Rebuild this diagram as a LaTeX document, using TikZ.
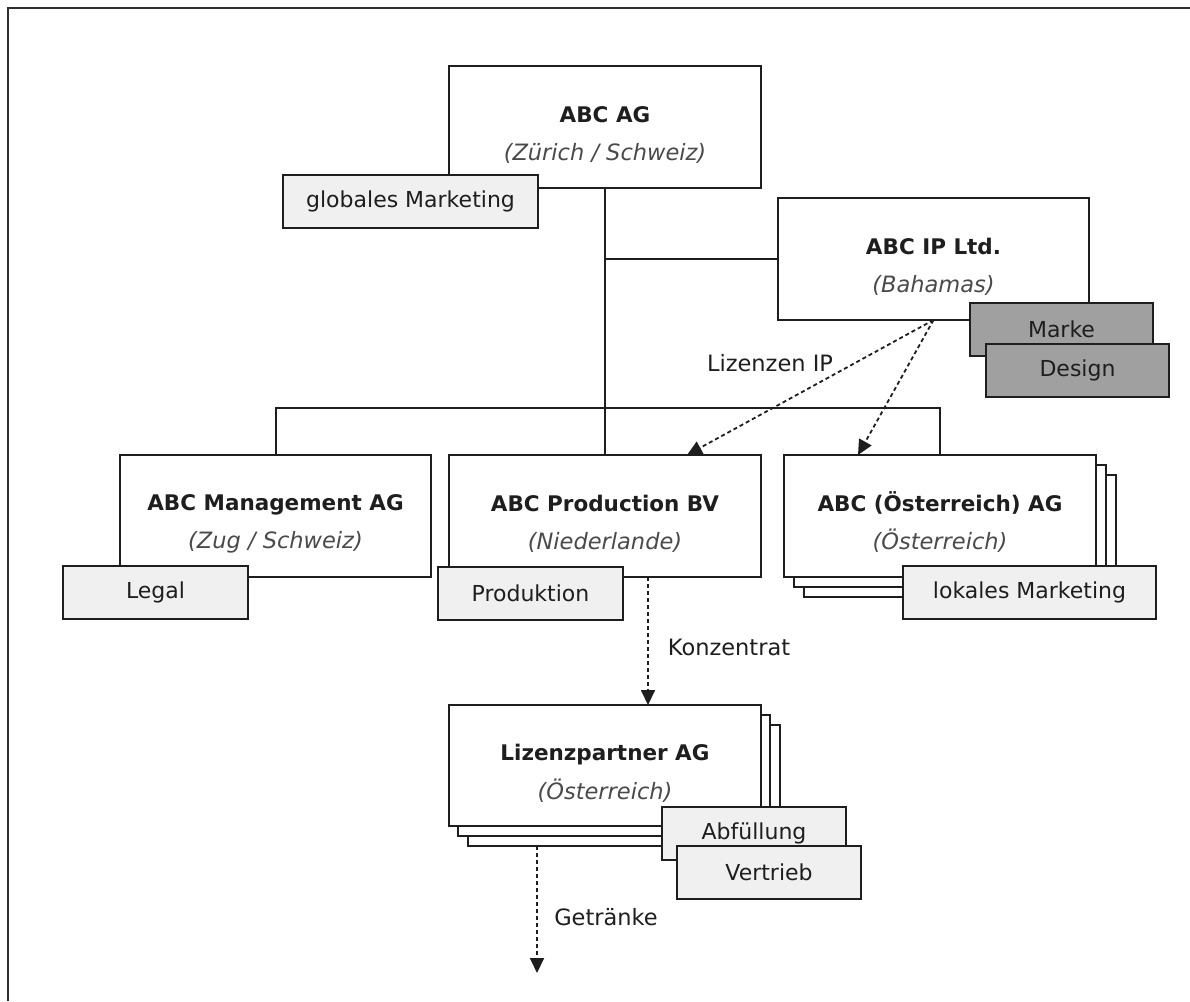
\documentclass[tikz,border=0pt]{standalone}
\usepackage{fontspec}
\setmainfont{DejaVu Sans}
\usetikzlibrary{arrows.meta,calc}
\definecolor{ink}{HTML}{1E1E1E}
\definecolor{sub}{HTML}{4A4A4A}
\definecolor{lightbox}{HTML}{F0F0F0}
\definecolor{darkbox}{HTML}{A0A0A0}
\definecolor{framecol}{HTML}{303030}
\newcommand\enttext[2]{\rule{0pt}{32pt}\textbf{#1}\\{\fontsize{22.5}{39}\selectfont\itshape\color{sub}#2}}
\begin{document}
\begin{tikzpicture}[x=1pt,y=-1pt,
 every node/.style={inner sep=0pt, outer sep=0pt},
 entity/.style={draw=ink, line width=2pt, fill=white, minimum width=312pt, minimum height=122pt, align=center, font=\fontsize{21.5}{38.5}\selectfont, text=ink},
 unit/.style={draw=ink, line width=2pt, fill=lightbox, minimum height=53pt, font=\fontsize{22}{25}\selectfont, text=ink},
 asset/.style={unit, fill=darkbox},
 shadowbox/.style={draw=ink, line width=2pt, fill=white, minimum width=312pt, minimum height=122pt},
 tree/.style={draw=ink, line width=2pt},
 flow/.style={draw=ink, line width=1.8pt, dash pattern=on 4pt off 3pt, -{Triangle[length=15pt,width=14pt]}},
 flowlabel/.style={font=\fontsize{22.5}{25}\selectfont, text=ink},
 outer/.style={draw=framecol, line width=2.5pt},
]
\useasboundingbox (0,0) rectangle (1190,1001);
\draw[outer] (8,1001) -- (8,8) -- (1190,8);

% top level
\node[entity] (abc) at (605,127) {\enttext{ABC AG}{(Zürich / Schweiz)}};
\node[unit, minimum width=255pt] (glob) at (410.5,201) {globales Marketing};

\node[entity, minimum width=311pt] (ip) at (933.5,259) {\enttext{ABC IP Ltd.}{(Bahamas)}};
\node[asset, minimum width=183pt] (marke) at (1061.5,329.5) {Marke};
\node[asset, minimum width=183pt] (design) at (1077.5,370.5) {Design};

% second level
\node[entity, minimum width=311pt] (mgmt) at (275.5,516) {\enttext{ABC Management AG}{(Zug / Schweiz)}};
\node[unit, minimum width=185pt] (legal) at (155.5,592.5) {Legal};

\node[entity] (prod) at (605,516) {\enttext{ABC Production BV}{(Niederlande)}};
\node[unit, minimum width=185pt] (produktion) at (530.5,593) {Produktion};

\node[shadowbox] (oe3) at (960,536) {};
\node[shadowbox] (oe2) at (950,526) {};
\node[entity] (oe) at (940,516) {\enttext{ABC (Österreich) AG}{(Österreich)}};
\node[unit, minimum width=253pt] (lokal) at (1029.5,592.5) {lokales Marketing};

% third level
\node[shadowbox, minimum height=121pt] (lp3) at (624,785.5) {};
\node[shadowbox, minimum height=121pt] (lp2) at (614,775.5) {};
\node[entity, minimum height=121pt] (lp) at (605,765.5) {\enttext{Lizenzpartner AG}{(Österreich)}};
\node[unit, minimum width=184pt] (abf) at (754,833.5) {Abfüllung};
\node[unit, minimum width=184pt] (vertrieb) at (769,872.5) {Vertrieb};

% tree connectors
\coordinate (bus) at (605,408);
\draw[tree] (abc.south) -- (prod.north);
\draw[tree] (abc.south |- ip.west) -- (ip.west);
\draw[tree] (mgmt.north) |- (bus) -| (oe.north);

% flows
\draw[flow] (ip.south) -- ($(prod.north)+(82,0)$);
\draw[flow] (ip.south) -- ($(oe.north)+(-82,0)$);
\node[flowlabel] (lizip) at (770,363) {Lizenzen IP};

\draw[flow] ($(prod.south)+(43,0)$) -- ($(lp.north)+(43,0)$);
\node[flowlabel] (konz) at (729,647) {Konzentrat};

\coordinate (sink) at (537,973);
\draw[flow] (sink |- lp3.south) -- (sink);
\node[flowlabel] (getr) at (606,917) {Getränke};
\end{tikzpicture}
\end{document}
